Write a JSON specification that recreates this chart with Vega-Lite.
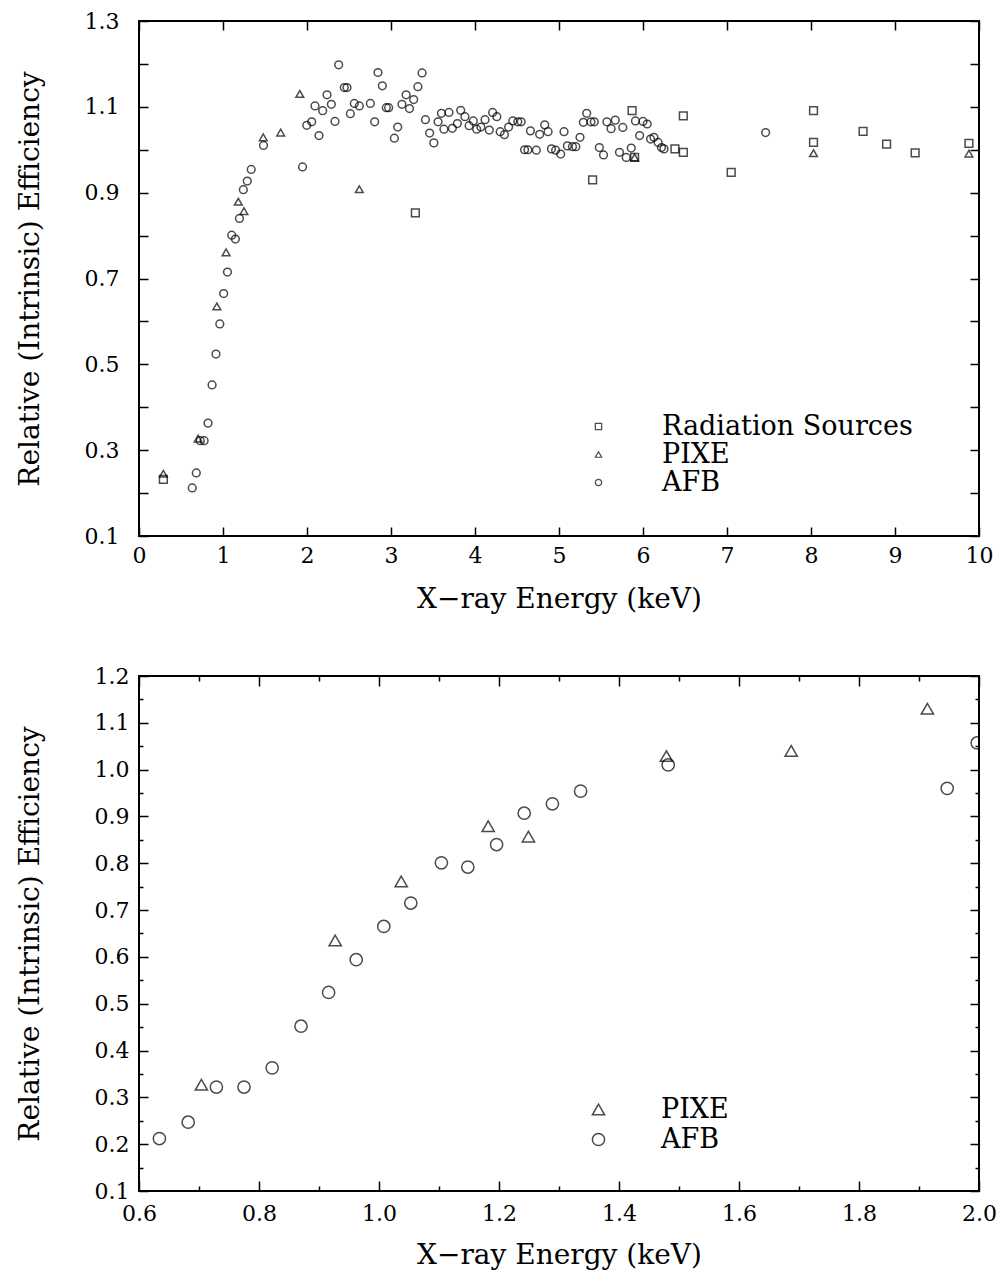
{
  "$schema": "https://vega.github.io/schema/vega-lite/v6.json",
  "background": "white",
  "padding": {"left": 15, "top": 9, "right": 5, "bottom": 5},
  "spacing": 50,
  "datasets": {
    "pts": [
      {"E": 0.634, "eff": 0.212, "src": "AFB"},
      {"E": 0.682, "eff": 0.247, "src": "AFB"},
      {"E": 0.729, "eff": 0.322, "src": "AFB"},
      {"E": 0.775, "eff": 0.322, "src": "AFB"},
      {"E": 0.822, "eff": 0.363, "src": "AFB"},
      {"E": 0.870, "eff": 0.452, "src": "AFB"},
      {"E": 0.916, "eff": 0.524, "src": "AFB"},
      {"E": 0.962, "eff": 0.594, "src": "AFB"},
      {"E": 1.008, "eff": 0.665, "src": "AFB"},
      {"E": 1.053, "eff": 0.715, "src": "AFB"},
      {"E": 1.104, "eff": 0.801, "src": "AFB"},
      {"E": 1.148, "eff": 0.792, "src": "AFB"},
      {"E": 1.196, "eff": 0.840, "src": "AFB"},
      {"E": 1.242, "eff": 0.907, "src": "AFB"},
      {"E": 1.289, "eff": 0.927, "src": "AFB"},
      {"E": 1.336, "eff": 0.954, "src": "AFB"},
      {"E": 1.482, "eff": 1.010, "src": "AFB"},
      {"E": 1.947, "eff": 0.960, "src": "AFB"},
      {"E": 1.997, "eff": 1.057, "src": "AFB"},
      {"E": 2.056, "eff": 1.065, "src": "AFB"},
      {"E": 2.095, "eff": 1.102, "src": "AFB"},
      {"E": 2.143, "eff": 1.033, "src": "AFB"},
      {"E": 2.187, "eff": 1.091, "src": "AFB"},
      {"E": 2.238, "eff": 1.128, "src": "AFB"},
      {"E": 2.290, "eff": 1.106, "src": "AFB"},
      {"E": 2.333, "eff": 1.066, "src": "AFB"},
      {"E": 2.377, "eff": 1.198, "src": "AFB"},
      {"E": 2.444, "eff": 1.145, "src": "AFB"},
      {"E": 2.476, "eff": 1.145, "src": "AFB"},
      {"E": 2.516, "eff": 1.084, "src": "AFB"},
      {"E": 2.563, "eff": 1.108, "src": "AFB"},
      {"E": 2.623, "eff": 1.102, "src": "AFB"},
      {"E": 2.754, "eff": 1.108, "src": "AFB"},
      {"E": 2.806, "eff": 1.065, "src": "AFB"},
      {"E": 2.845, "eff": 1.180, "src": "AFB"},
      {"E": 2.897, "eff": 1.149, "src": "AFB"},
      {"E": 2.944, "eff": 1.098, "src": "AFB"},
      {"E": 2.972, "eff": 1.098, "src": "AFB"},
      {"E": 3.04, "eff": 1.027, "src": "AFB"},
      {"E": 3.08, "eff": 1.053, "src": "AFB"},
      {"E": 3.13, "eff": 1.106, "src": "AFB"},
      {"E": 3.18, "eff": 1.128, "src": "AFB"},
      {"E": 3.22, "eff": 1.096, "src": "AFB"},
      {"E": 3.27, "eff": 1.117, "src": "AFB"},
      {"E": 3.32, "eff": 1.147, "src": "AFB"},
      {"E": 3.37, "eff": 1.179, "src": "AFB"},
      {"E": 3.41, "eff": 1.070, "src": "AFB"},
      {"E": 3.46, "eff": 1.039, "src": "AFB"},
      {"E": 3.51, "eff": 1.016, "src": "AFB"},
      {"E": 3.56, "eff": 1.065, "src": "AFB"},
      {"E": 3.60, "eff": 1.085, "src": "AFB"},
      {"E": 3.63, "eff": 1.048, "src": "AFB"},
      {"E": 3.69, "eff": 1.087, "src": "AFB"},
      {"E": 3.73, "eff": 1.050, "src": "AFB"},
      {"E": 3.79, "eff": 1.061, "src": "AFB"},
      {"E": 3.83, "eff": 1.092, "src": "AFB"},
      {"E": 3.88, "eff": 1.077, "src": "AFB"},
      {"E": 3.93, "eff": 1.056, "src": "AFB"},
      {"E": 3.98, "eff": 1.067, "src": "AFB"},
      {"E": 4.02, "eff": 1.048, "src": "AFB"},
      {"E": 4.07, "eff": 1.053, "src": "AFB"},
      {"E": 4.12, "eff": 1.070, "src": "AFB"},
      {"E": 4.17, "eff": 1.046, "src": "AFB"},
      {"E": 4.21, "eff": 1.087, "src": "AFB"},
      {"E": 4.26, "eff": 1.077, "src": "AFB"},
      {"E": 4.30, "eff": 1.042, "src": "AFB"},
      {"E": 4.35, "eff": 1.035, "src": "AFB"},
      {"E": 4.40, "eff": 1.053, "src": "AFB"},
      {"E": 4.45, "eff": 1.067, "src": "AFB"},
      {"E": 4.51, "eff": 1.065, "src": "AFB"},
      {"E": 4.55, "eff": 1.065, "src": "AFB"},
      {"E": 4.59, "eff": 1.000, "src": "AFB"},
      {"E": 4.63, "eff": 1.000, "src": "AFB"},
      {"E": 4.66, "eff": 1.044, "src": "AFB"},
      {"E": 4.73, "eff": 0.999, "src": "AFB"},
      {"E": 4.77, "eff": 1.036, "src": "AFB"},
      {"E": 4.83, "eff": 1.058, "src": "AFB"},
      {"E": 4.87, "eff": 1.042, "src": "AFB"},
      {"E": 4.91, "eff": 1.002, "src": "AFB"},
      {"E": 4.96, "eff": 0.999, "src": "AFB"},
      {"E": 5.02, "eff": 0.990, "src": "AFB"},
      {"E": 5.06, "eff": 1.042, "src": "AFB"},
      {"E": 5.10, "eff": 1.009, "src": "AFB"},
      {"E": 5.16, "eff": 1.007, "src": "AFB"},
      {"E": 5.20, "eff": 1.007, "src": "AFB"},
      {"E": 5.25, "eff": 1.029, "src": "AFB"},
      {"E": 5.29, "eff": 1.064, "src": "AFB"},
      {"E": 5.33, "eff": 1.085, "src": "AFB"},
      {"E": 5.38, "eff": 1.065, "src": "AFB"},
      {"E": 5.42, "eff": 1.065, "src": "AFB"},
      {"E": 5.48, "eff": 1.005, "src": "AFB"},
      {"E": 5.53, "eff": 0.988, "src": "AFB"},
      {"E": 5.57, "eff": 1.065, "src": "AFB"},
      {"E": 5.62, "eff": 1.049, "src": "AFB"},
      {"E": 5.67, "eff": 1.069, "src": "AFB"},
      {"E": 5.72, "eff": 0.994, "src": "AFB"},
      {"E": 5.76, "eff": 1.052, "src": "AFB"},
      {"E": 5.80, "eff": 0.982, "src": "AFB"},
      {"E": 5.86, "eff": 1.004, "src": "AFB"},
      {"E": 5.91, "eff": 1.067, "src": "AFB"},
      {"E": 5.96, "eff": 1.033, "src": "AFB"},
      {"E": 6.00, "eff": 1.066, "src": "AFB"},
      {"E": 6.05, "eff": 1.060, "src": "AFB"},
      {"E": 6.09, "eff": 1.025, "src": "AFB"},
      {"E": 6.13, "eff": 1.029, "src": "AFB"},
      {"E": 6.18, "eff": 1.017, "src": "AFB"},
      {"E": 6.22, "eff": 1.005, "src": "AFB"},
      {"E": 6.25, "eff": 1.002, "src": "AFB"},
      {"E": 7.46, "eff": 1.040, "src": "AFB"},
      {"E": 0.29, "eff": 0.245, "src": "PIXE"},
      {"E": 0.704, "eff": 0.327, "src": "PIXE"},
      {"E": 0.927, "eff": 0.635, "src": "PIXE"},
      {"E": 1.037, "eff": 0.761, "src": "PIXE"},
      {"E": 1.182, "eff": 0.879, "src": "PIXE"},
      {"E": 1.249, "eff": 0.857, "src": "PIXE"},
      {"E": 1.479, "eff": 1.029, "src": "PIXE"},
      {"E": 1.687, "eff": 1.040, "src": "PIXE"},
      {"E": 1.914, "eff": 1.130, "src": "PIXE"},
      {"E": 2.623, "eff": 0.908, "src": "PIXE"},
      {"E": 5.90, "eff": 0.982, "src": "PIXE"},
      {"E": 8.03, "eff": 0.992, "src": "PIXE"},
      {"E": 9.88, "eff": 0.991, "src": "PIXE"},
      {"E": 0.29, "eff": 0.232, "src": "Radiation Sources"},
      {"E": 3.29, "eff": 0.853, "src": "Radiation Sources"},
      {"E": 5.40, "eff": 0.930, "src": "Radiation Sources"},
      {"E": 5.87, "eff": 1.091, "src": "Radiation Sources"},
      {"E": 5.90, "eff": 0.982, "src": "Radiation Sources"},
      {"E": 6.38, "eff": 1.002, "src": "Radiation Sources"},
      {"E": 6.48, "eff": 0.994, "src": "Radiation Sources"},
      {"E": 6.48, "eff": 1.079, "src": "Radiation Sources"},
      {"E": 7.05, "eff": 0.947, "src": "Radiation Sources"},
      {"E": 8.03, "eff": 1.091, "src": "Radiation Sources"},
      {"E": 8.03, "eff": 1.017, "src": "Radiation Sources"},
      {"E": 8.62, "eff": 1.043, "src": "Radiation Sources"},
      {"E": 8.90, "eff": 1.013, "src": "Radiation Sources"},
      {"E": 9.24, "eff": 0.993, "src": "Radiation Sources"},
      {"E": 9.88, "eff": 1.015, "src": "Radiation Sources"}
    ]
  },
  "config": {
    "view": {"stroke": "black", "strokeWidth": 2},
    "axis": {
      "labelFont": "DejaVu Serif",
      "titleFont": "DejaVu Serif",
      "labelFontSize": 22,
      "titleFontSize": 28,
      "titleFontWeight": "normal",
      "labelColor": "black",
      "titleColor": "black",
      "tickColor": "black",
      "tickWidth": 1.5,
      "labelFlush": false,
      "domain": false,
      "grid": false
    },
    "legend": {
      "orient": "none",
      "title": null,
      "padding": 0,
      "labelFont": "DejaVu Serif",
      "labelFontSize": 27,
      "labelColor": "black",
      "labelLimit": 0,
      "symbolStrokeColor": "black",
      "symbolStrokeWidth": 1.2
    }
  },
  "resolve": {
    "scale": {"x": "independent", "y": "independent", "shape": "independent"},
    "legend": {"shape": "independent"}
  },
  "vconcat": [
    {
      "width": 840,
      "height": 515,
      "data": {"name": "pts"},
      "layer": [
        {
          "mark": {"type": "point", "opacity": 0},
          "encoding": {
            "x": {"field": "E", "type": "quantitative",
              "scale": {"domain": [0, 10], "nice": false, "zero": false},
              "axis": {"orient": "top", "values": [0,1,2,3,4,5,6,7,8,9,10], "labels": false, "title": null, "tickSize": -9}},
            "y": {"field": "eff", "type": "quantitative",
              "scale": {"domain": [0.1, 1.3], "nice": false, "zero": false},
              "axis": {"orient": "right", "values": [0.1,0.2,0.3,0.4,0.5,0.6,0.7,0.8,0.9,1.0,1.1,1.2,1.3], "labels": false, "title": null, "tickSize": -9}}
          }
        },
        {
          "mark": {"type": "point", "filled": false, "color": "black", "strokeWidth": 1.5, "size": 60},
          "encoding": {
            "x": {"field": "E", "type": "quantitative",
              "scale": {"domain": [0, 10], "nice": false, "zero": false},
              "axis": {"orient": "bottom", "values": [0,1,2,3,4,5,6,7,8,9,10], "format": "d", "tickSize": -9, "labelPadding": 18, "title": "X−ray Energy (keV)", "titlePadding": 19}},
            "y": {"field": "eff", "type": "quantitative",
              "scale": {"domain": [0.1, 1.3], "nice": false, "zero": false},
              "axis": {"orient": "left", "values": [0.1,0.2,0.3,0.4,0.5,0.6,0.7,0.8,0.9,1.0,1.1,1.2,1.3], "labelExpr": "round(datum.value*10) % 2 == 1 ? format(datum.value, '.1f') : ''", "tickSize": -9, "labelPadding": 29, "title": "Relative (Intrinsic) Efficiency", "titlePadding": 40}},
            "shape": {"field": "src", "type": "nominal",
              "scale": {"domain": ["Radiation Sources", "PIXE", "AFB"], "range": ["square", "triangle-up", "circle"]},
              "legend": {"legendX": 446, "legendY": 392, "labelOffset": 50, "symbolSize": 40, "rowPadding": 0}}
          }
        }
      ],
      "resolve": {"axis": {"x": "independent", "y": "independent"}}
    },
    {
      "width": 840,
      "height": 515,
      "data": {"name": "pts"},
      "transform": [
        {"filter": "datum.E >= 0.6 && datum.E <= 2.01 && datum.src != 'Radiation Sources'"}
      ],
      "layer": [
        {
          "mark": {"type": "point", "opacity": 0},
          "encoding": {
            "x": {"field": "E", "type": "quantitative",
              "scale": {"domain": [0.6, 2.0], "nice": false, "zero": false},
              "axis": {"orient": "top", "values": [0.6,0.8,1.0,1.2,1.4,1.6,1.8,2.0], "labels": false, "title": null, "tickSize": -10}},
            "y": {"field": "eff", "type": "quantitative",
              "scale": {"domain": [0.1, 1.2], "nice": false, "zero": false},
              "axis": {"orient": "right", "values": [0.1,0.2,0.3,0.4,0.5,0.6,0.7,0.8,0.9,1.0,1.1,1.2], "labels": false, "title": null, "tickSize": -9}}
          }
        },
        {
          "mark": {"type": "point", "opacity": 0},
          "encoding": {
            "x": {"field": "E", "type": "quantitative",
              "scale": {"domain": [0.6, 2.0], "nice": false, "zero": false},
              "axis": {"orient": "top", "values": [0.7,0.9,1.1,1.3,1.5,1.7,1.9], "labels": false, "title": null, "tickSize": -5}},
            "y": {"field": "eff", "type": "quantitative",
              "scale": {"domain": [0.1, 1.2], "nice": false, "zero": false},
              "axis": {"orient": "right", "values": [0.15,0.25,0.35,0.45,0.55,0.65,0.75,0.85,0.95,1.05,1.15], "labels": false, "title": null, "tickSize": -4}}
          }
        },
        {
          "mark": {"type": "point", "opacity": 0},
          "encoding": {
            "x": {"field": "E", "type": "quantitative",
              "scale": {"domain": [0.6, 2.0], "nice": false, "zero": false},
              "axis": {"orient": "bottom", "values": [0.7,0.9,1.1,1.3,1.5,1.7,1.9], "labels": false, "title": null, "tickSize": -5}},
            "y": {"field": "eff", "type": "quantitative",
              "scale": {"domain": [0.1, 1.2], "nice": false, "zero": false},
              "axis": {"orient": "left", "values": [0.15,0.25,0.35,0.45,0.55,0.65,0.75,0.85,0.95,1.05,1.15], "labels": false, "title": null, "tickSize": -4}}
          }
        },
        {
          "mark": {"type": "point", "filled": false, "color": "black", "strokeWidth": 1.5, "size": 150, "clip": true},
          "encoding": {
            "x": {"field": "E", "type": "quantitative",
              "scale": {"domain": [0.6, 2.0], "nice": false, "zero": false},
              "axis": {"orient": "bottom", "values": [0.6,0.8,1.0,1.2,1.4,1.6,1.8,2.0], "format": ".1f", "tickSize": -10, "labelPadding": 22, "title": "X−ray Energy (keV)", "titlePadding": 17}},
            "y": {"field": "eff", "type": "quantitative",
              "scale": {"domain": [0.1, 1.2], "nice": false, "zero": false},
              "axis": {"orient": "left", "values": [0.1,0.2,0.3,0.4,0.5,0.6,0.7,0.8,0.9,1.0,1.1,1.2], "format": ".1f", "tickSize": -9, "labelPadding": 19, "title": "Relative (Intrinsic) Efficiency", "titlePadding": 50}},
            "shape": {"field": "src", "type": "nominal",
              "scale": {"domain": ["PIXE", "AFB"], "range": ["triangle-up", "circle"]},
              "legend": {"legendX": 446, "legendY": 420, "labelOffset": 49, "symbolSize": 150, "symbolStrokeWidth": 1.5, "rowPadding": 2}}
          }
        }
      ],
      "resolve": {"axis": {"x": "independent", "y": "independent"}}
    }
  ]
}
